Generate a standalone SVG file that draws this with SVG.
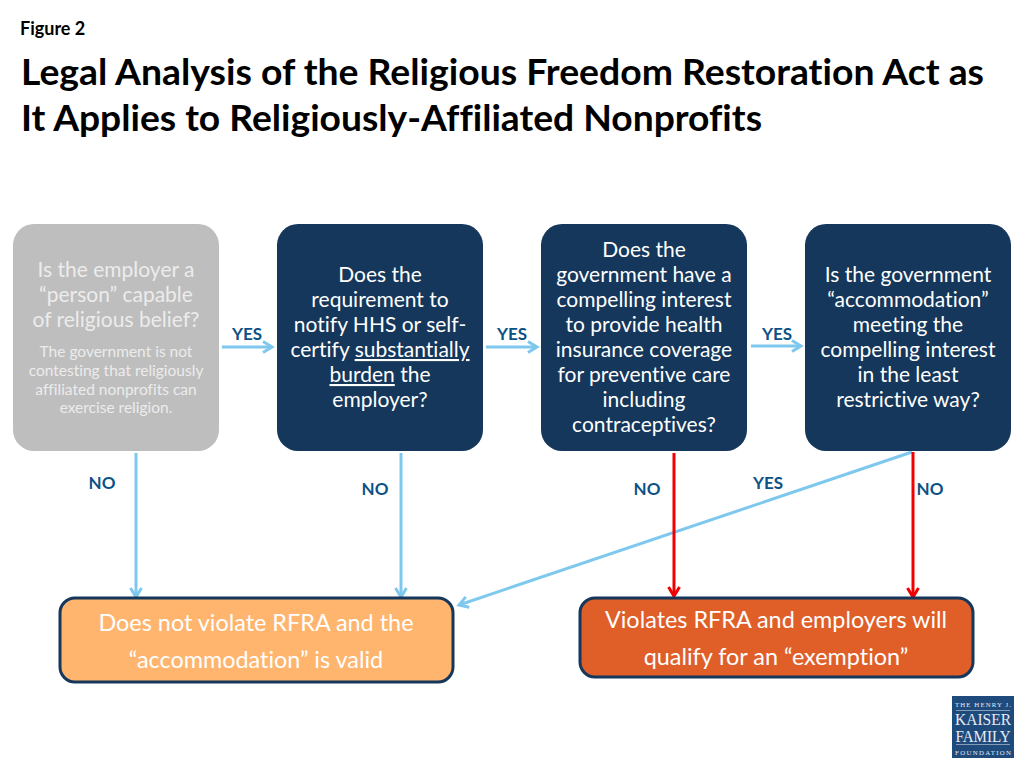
<svg xmlns="http://www.w3.org/2000/svg" width="1024" height="768" viewBox="0 0 1024 768">
<style>
text{font-family:Lato,"Open Sans",sans-serif;font-variant-ligatures:none}
.q{font-size:21px;fill:#fff;text-anchor:middle}
.g{fill:#ececec}
.s{font-size:15.500px;fill:#ececec;text-anchor:middle}
.l{font-size:17px;font-weight:700;fill:#0b5186;text-anchor:middle}
.t{font-size:36px;font-weight:700;fill:#000}
.o{font-size:23.400px;fill:#fff;text-anchor:middle}
.c{fill:none;stroke-width:3}
.b{stroke:#7ec8ee}
.r{stroke:#f00000}
.lg{font-family:"Liberation Serif",serif;fill:#e6ebf2;text-anchor:middle}
</style>
<defs>
<marker id="ab" markerUnits="userSpaceOnUse" markerWidth="16" markerHeight="16" refX="13" refY="8" orient="auto"><path d="M4 2.500L13 8L4 13.500" fill="none" stroke="#7ec8ee" stroke-width="3"/></marker>
<marker id="ar" markerUnits="userSpaceOnUse" markerWidth="16" markerHeight="16" refX="13" refY="8" orient="auto"><path d="M4 2.500L13 8L4 13.500" fill="none" stroke="#f00000" stroke-width="3"/></marker>
</defs>
<text id="fig" x="20" y="35" style="font-size:18px;font-weight:700">Figure 2</text>
<g id="title">
<text class="t" x="21" y="85" textLength="963" lengthAdjust="spacingAndGlyphs">Legal Analysis of the Religious Freedom Restoration Act as</text>
<text class="t" x="21" y="131" textLength="741" lengthAdjust="spacingAndGlyphs">It Applies to Religiously-Affiliated Nonprofits</text>
</g>
<g id="connectors">
<path class="c b" marker-end="url(#ab)" d="M222 347H272"/>
<path class="c b" marker-end="url(#ab)" d="M486 347H537"/>
<path class="c b" marker-end="url(#ab)" d="M751 346H801"/>
<path class="c b" marker-end="url(#ab)" d="M136 453V597"/>
<path class="c b" marker-end="url(#ab)" d="M401 453V597"/>
<path class="c b" marker-end="url(#ab)" d="M912 452L459 605"/>
<path class="c r" marker-end="url(#ar)" d="M674 453V596"/>
<path class="c r" marker-end="url(#ar)" d="M913 452V597"/>
</g>
<g id="n1"><rect x="13" y="224" width="206" height="227" rx="21" fill="#bebebe"/>
<text class="q g" x="116" y="277">Is the employer a</text>
<text class="q g" x="116" y="302">“person” capable</text>
<text class="q g" x="116" y="327">of religious belief?</text>
<text class="s" x="116" y="357">The government is not</text>
<text class="s" x="116" y="376">contesting that religiously</text>
<text class="s" x="116" y="395">affiliated nonprofits can</text>
<text class="s" x="116" y="413">exercise religion.</text></g>
<g id="n2"><rect x="277" y="224" width="206" height="227" rx="21" fill="#14375b"/>
<text class="q" x="380" y="282">Does the</text>
<text class="q" x="380" y="307">requirement to</text>
<text class="q" x="380" y="332">notify HHS or self-</text>
<text class="q" x="380" y="357">certify <tspan text-decoration="underline">substantially</tspan></text>
<text class="q" x="380" y="382"><tspan text-decoration="underline">burden</tspan> the</text>
<text class="q" x="380" y="407">employer?</text></g>
<g id="n3"><rect x="541" y="224" width="206" height="227" rx="21" fill="#14375b"/>
<text class="q" x="644" y="257">Does the</text>
<text class="q" x="644" y="282">government have a</text>
<text class="q" x="644" y="307">compelling interest</text>
<text class="q" x="644" y="332">to provide health</text>
<text class="q" x="644" y="357">insurance coverage</text>
<text class="q" x="644" y="382">for preventive care</text>
<text class="q" x="644" y="407">including</text>
<text class="q" x="644" y="432">contraceptives?</text></g>
<g id="n4"><rect x="805" y="224" width="206" height="227" rx="21" fill="#14375b"/>
<text class="q" x="908" y="282">Is the government</text>
<text class="q" x="908" y="307">“accommodation”</text>
<text class="q" x="908" y="332">meeting the</text>
<text class="q" x="908" y="357">compelling interest</text>
<text class="q" x="908" y="382">in the least</text>
<text class="q" x="908" y="407">restrictive way?</text></g>
<g id="n5"><rect x="60" y="598" width="393" height="84" rx="15" fill="#ffb56e" stroke="#14375b" stroke-width="3"/>
<text class="o" x="256" y="631">Does not violate RFRA and the</text>
<text class="o" x="256" y="668">“accommodation” is valid</text></g>
<g id="n6"><rect x="580" y="598" width="393" height="79" rx="15" fill="#e05e28" stroke="#14375b" stroke-width="3"/>
<text class="o" x="776" y="628">Violates RFRA and employers will</text>
<text class="o" x="776" y="665">qualify for an “exemption”</text></g>
<g id="labels">
<text class="l" x="247" y="340">YES</text>
<text class="l" x="512" y="340">YES</text>
<text class="l" x="777" y="340">YES</text>
<text class="l" x="768" y="489">YES</text>
<text class="l" x="102" y="489">NO</text>
<text class="l" x="375" y="495">NO</text>
<text class="l" x="647" y="495">NO</text>
<text class="l" x="930" y="495">NO</text>
</g>
<g id="logo"><rect x="952" y="696" width="62" height="62" fill="#1f4a7c"/>
<text class="lg" x="983" y="707" style="font-size:6.800px" textLength="56">THE HENRY J.</text>
<path d="M956 710.500H1010M956 744.500H1010" stroke="#c9d3e0" stroke-width="0.600"/>
<text class="lg" x="983" y="725" style="font-size:16.500px" textLength="56" lengthAdjust="spacingAndGlyphs">KAISER</text>
<text class="lg" x="983" y="742" style="font-size:16.500px" textLength="55" lengthAdjust="spacingAndGlyphs">FAMILY</text>
<text class="lg" x="983" y="755" style="font-size:6.800px" textLength="56">FOUNDATION</text></g>
</svg>
